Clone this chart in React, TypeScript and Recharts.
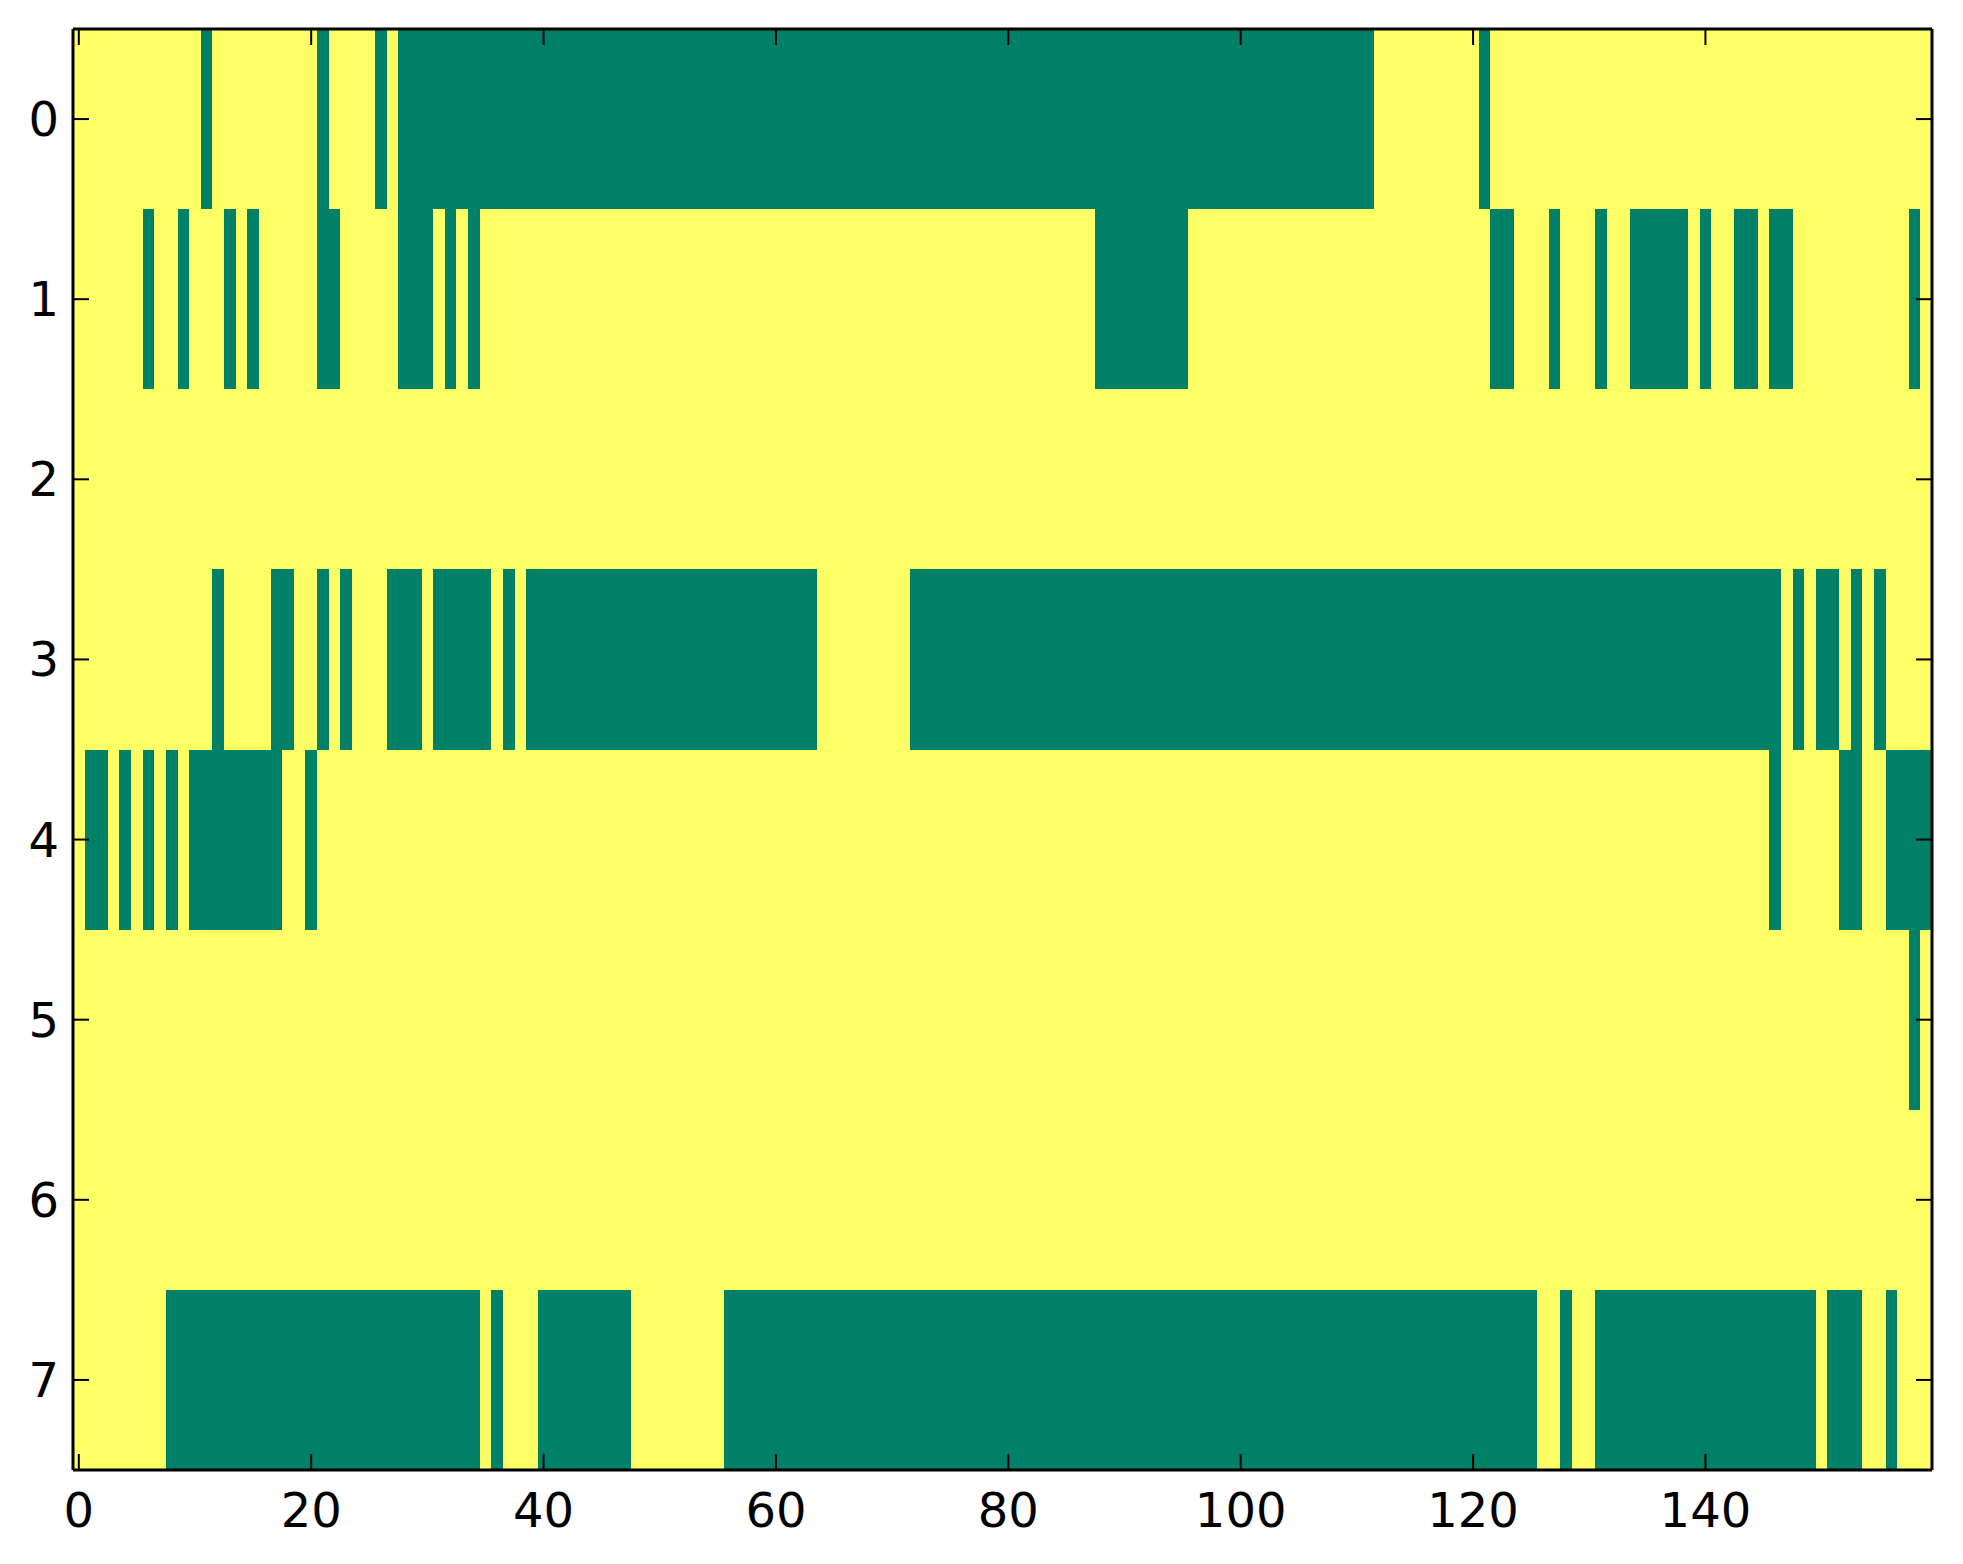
import React from "react";
import { ComposedChart, XAxis, YAxis, ReferenceArea, Scatter } from "recharts";

// matrix is 8 rows x 160 columns; lists below hold the columns whose value is 0
// (green), as inclusive [from, to] runs. every other cell is 1 (yellow).
const colCount = 160;
const rowCount = 8;
const xTicks = [0, 20, 40, 60, 80, 100, 120, 140];
const yTicks = [0, 1, 2, 3, 4, 5, 6, 7];

const row0 = [[11, 11], [21, 21], [26, 26], [28, 111], [121, 121]];
const row1 = [
  [6, 6], [9, 9], [13, 13], [15, 15], [21, 22], [28, 30], [32, 32], [34, 34],
  [88, 95], [122, 123], [127, 127], [131, 131], [134, 138], [140, 140],
  [143, 144], [146, 147], [158, 158],
];
const row2: number[][] = [];
const row3 = [
  [12, 12], [17, 18], [21, 21], [23, 23], [27, 29], [31, 35], [37, 37],
  [39, 63], [72, 146], [148, 148], [150, 151], [153, 153], [155, 155],
];
const row4 = [
  [1, 2], [4, 4], [6, 6], [8, 8], [10, 17], [20, 20], [146, 146],
  [152, 153], [156, 159],
];
const row5 = [[158, 158]];
const row6: number[][] = [];
const row7 = [
  [8, 34], [36, 36], [40, 47], [56, 125], [128, 128], [131, 149],
  [151, 153], [156, 156],
];

const rows = [row0, row1, row2, row3, row4, row5, row6, row7];

const lowColor = "#008066";
const highColor = "#ffff66";
const font = "DejaVu Sans, sans-serif";

const zeroRuns = rows.flatMap((runs, r) =>
  runs.map(([from, to]) => ({ row: r, from, to, mid: (from + to) / 2 }))
);

const BottomTick = (props: any) => {
  const { x, y, payload } = props;
  return (
    <g>
      <line x1={x} y1={y} x2={x} y2={y - 16} stroke="#000" strokeWidth={2} />
      <text x={x} y={y + 57} textAnchor="middle" fontSize={48} fontFamily={font} fill="#000">
        {payload.value}
      </text>
    </g>
  );
};

const LeftTick = (props: any) => {
  const { x, y, payload } = props;
  return (
    <g>
      <line x1={x} y1={y} x2={x + 16} y2={y} stroke="#000" strokeWidth={2} />
      <text x={x - 14} y={y + 17} textAnchor="end" fontSize={48} fontFamily={font} fill="#000">
        {payload.value}
      </text>
    </g>
  );
};

const TopTick = (props: any) => {
  const { x, y } = props;
  return <line x1={x} y1={y} x2={x} y2={y + 16} stroke="#000" strokeWidth={2} />;
};

const RightTick = (props: any) => {
  const { x, y } = props;
  return <line x1={x} y1={y} x2={x - 16} y2={y} stroke="#000" strokeWidth={2} />;
};

const NoShape = () => <g />;

const xDomain: [number, number] = [-0.5, colCount - 0.5];
const yDomain: [number, number] = [-0.5, rowCount - 0.5];
const axisLine = { stroke: "#000", strokeWidth: 3 };

export default function App() {
  return (
    <ComposedChart
      width={1955}
      height={1556}
      data={zeroRuns}
      margin={{ top: 20, right: 30, bottom: 0, left: 0 }}
    >
      <XAxis
        xAxisId="b"
        dataKey="mid"
        type="number"
        domain={xDomain}
        ticks={xTicks}
        allowDataOverflow
        height={94}
        tickSize={0}
        tickMargin={0}
        tick={<BottomTick />}
        axisLine={axisLine}
        interval={0}
      />
      <XAxis
        xAxisId="t"
        dataKey="mid"
        orientation="top"
        type="number"
        domain={xDomain}
        ticks={xTicks}
        allowDataOverflow
        height={1}
        tickSize={0}
        tickMargin={0}
        tick={<TopTick />}
        axisLine={axisLine}
        interval={0}
      />
      <YAxis
        yAxisId="l"
        dataKey="row"
        type="number"
        domain={yDomain}
        ticks={yTicks}
        reversed
        allowDataOverflow
        width={65}
        tickSize={0}
        tickMargin={0}
        tick={<LeftTick />}
        axisLine={axisLine}
        interval={0}
      />
      <YAxis
        yAxisId="r"
        dataKey="row"
        orientation="right"
        type="number"
        domain={yDomain}
        ticks={yTicks}
        reversed
        allowDataOverflow
        width={1}
        tickSize={0}
        tickMargin={0}
        tick={<RightTick />}
        axisLine={axisLine}
        interval={0}
      />
      <ReferenceArea
        xAxisId="b"
        yAxisId="l"
        x1={xDomain[0]}
        x2={xDomain[1]}
        y1={yDomain[0]}
        y2={yDomain[1]}
        fill={highColor}
        fillOpacity={1}
        stroke="none"
        ifOverflow="visible"
      />
      {zeroRuns.map((run, i) => (
        <ReferenceArea
          key={i}
          xAxisId="b"
          yAxisId="l"
          x1={run.from - 0.5}
          x2={run.to + 0.5}
          y1={run.row - 0.5}
          y2={run.row + 0.5}
          fill={lowColor}
          fillOpacity={1}
          stroke="none"
          ifOverflow="visible"
          shapeRendering="crispEdges"
        />
      ))}
      <Scatter xAxisId="b" yAxisId="l" dataKey="row" shape={<NoShape />} isAnimationActive={false} />
      <Scatter xAxisId="t" yAxisId="r" dataKey="row" shape={<NoShape />} isAnimationActive={false} />
    </ComposedChart>
  );
}
